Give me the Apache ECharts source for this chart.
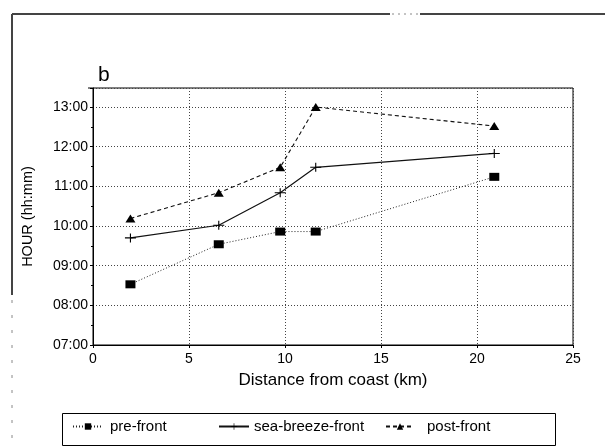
<!DOCTYPE html>
<html>
<head>
<meta charset="utf-8">
<script src="https://cdn.jsdelivr.net/npm/echarts@6/dist/echarts.min.js"></script>
<style>html,body{margin:0;padding:0;background:#fff}#c{width:605px;height:447px}</style>
</head>
<body>
<div id="c"></div>
<script>
// Distance from coast (km)
const distances = [1.95, 6.55, 9.75, 11.6, 20.9];
// Hours (decimal)
const preFront = [8.53, 9.54, 9.86, 9.86, 11.24];
const seaBreezeFront = [9.70, 10.02, 10.84, 11.48, 11.83];
const postFront = [10.19, 10.84, 11.48, 13.0, 12.52];
const seriesNames = ['pre-front', 'sea-breeze-front', 'post-front'];
const xTicks = [0, 5, 10, 15, 20, 25];
const yTickHours = [7, 8, 9, 10, 11, 12, 13];

const FONT = '"Liberation Sans", Arial, sans-serif';
function pairs(xs, ys) { return xs.map((x, i) => [x, ys[i]]); }
const plusPath = 'path://M0,3.6H10V4.6H0ZM4.5,0H5.5V8.2H4.5Z';

const chart = echarts.init(document.getElementById('c'), null, { renderer: 'canvas' });
function legendAt(left, width, padLeft, name) {
  return {
    left: left, top: 419, itemWidth: width, itemHeight: 8, padding: 0,
    textStyle: { fontFamily: FONT, fontSize: 15, color: '#000', padding: [0, 0, 0, padLeft] },
    data: [name]
  };
}
chart.setOption({
  backgroundColor: '#fff',
  animation: false,
  grid: { left: 93, right: 32, top: 88, bottom: 102, show: true, borderColor: '#000', borderWidth: 1 },
  legend: [
    legendAt(72, 30, 2, seriesNames[0]),
    legendAt(218, 30, 0, seriesNames[1]),
    legendAt(385, 28, 8, seriesNames[2])
  ],
  xAxis: {
    type: 'value', min: 0, max: 25, interval: 5,
    name: 'Distance from coast (km)', nameLocation: 'middle', nameGap: 27,
    nameTextStyle: { fontFamily: FONT, fontSize: 17, color: '#000' },
    axisLine: { lineStyle: { color: '#000', width: 1 } },
    axisTick: { show: true, inside: false, length: 3, lineStyle: { color: '#000' } },
    axisLabel: { fontFamily: FONT, fontSize: 14, color: '#000', margin: 7,
      formatter: v => xTicks.includes(v) ? String(v) : '' },
    splitLine: { show: true, lineStyle: { color: '#444', type: [1, 2], width: 1 } }
  },
  yAxis: {
    type: 'value', min: 7, max: 13.48, interval: 1,
    name: 'HOUR (hh:mm)', nameLocation: 'middle', nameGap: 58, nameRotate: 90,
    nameTextStyle: { fontFamily: FONT, fontSize: 14.5, color: '#000' },
    axisLine: { show: true, lineStyle: { color: '#000', width: 1 } },
    axisTick: { show: true, inside: false, length: 3, lineStyle: { color: '#000' } },
    minorTick: { show: true, splitNumber: 2, length: 2, lineStyle: { color: '#000' } },
    axisLabel: { fontFamily: FONT, fontSize: 14, color: '#000', margin: 5,
      formatter: v => yTickHours.includes(v) ? (v < 10 ? '0' + v : '' + v) + ':00' : '' },
    splitLine: { show: true, lineStyle: { color: '#444', type: [1, 2], width: 1 } }
  },
  series: [
    { name: seriesNames[0], type: 'line', data: pairs(distances, preFront),
      symbol: 'rect', symbolSize: [10, 8],
      itemStyle: { color: '#000' },
      lineStyle: { color: '#222', width: 1, type: [1, 2] } },
    { name: seriesNames[1], type: 'line', data: pairs(distances, seaBreezeFront),
      symbol: plusPath, symbolSize: [11, 9],
      itemStyle: { color: '#000' },
      lineStyle: { color: '#111', width: 1.2, type: 'solid' } },
    { name: seriesNames[2], type: 'line', data: pairs(distances, postFront),
      symbol: 'triangle', symbolSize: [10, 8],
      itemStyle: { color: '#000' },
      lineStyle: { color: '#111', width: 1.1, type: [4, 3] } }
  ],
  graphic: [
    { type: 'line', shape: { x1: 12, y1: 14, x2: 390, y2: 14 }, style: { stroke: '#444', lineWidth: 2 } },
    { type: 'line', shape: { x1: 392, y1: 14, x2: 418, y2: 14 }, style: { stroke: '#888', lineWidth: 1, lineDash: [2, 4] } },
    { type: 'line', shape: { x1: 420, y1: 14, x2: 605, y2: 14 }, style: { stroke: '#444', lineWidth: 2 } },
    { type: 'line', shape: { x1: 12, y1: 14, x2: 12, y2: 295 }, style: { stroke: '#444', lineWidth: 2 } },
    { type: 'line', shape: { x1: 12, y1: 300, x2: 12, y2: 447 }, style: { stroke: '#888', lineWidth: 1, lineDash: [3, 12] } },
    { type: 'line', shape: { x1: 88, y1: 88, x2: 93, y2: 88 }, style: { stroke: '#000', lineWidth: 1 } },
    { type: 'text', left: 98, top: 65, style: { text: 'b', fontFamily: FONT, fontSize: 21, fill: '#000' } },
    { type: 'rect', shape: { x: 62.5, y: 413.5, width: 493, height: 32 }, style: { fill: 'none', stroke: '#000', lineWidth: 1 }, z: -1 }
  ]
});
</script>
</body>
</html>
